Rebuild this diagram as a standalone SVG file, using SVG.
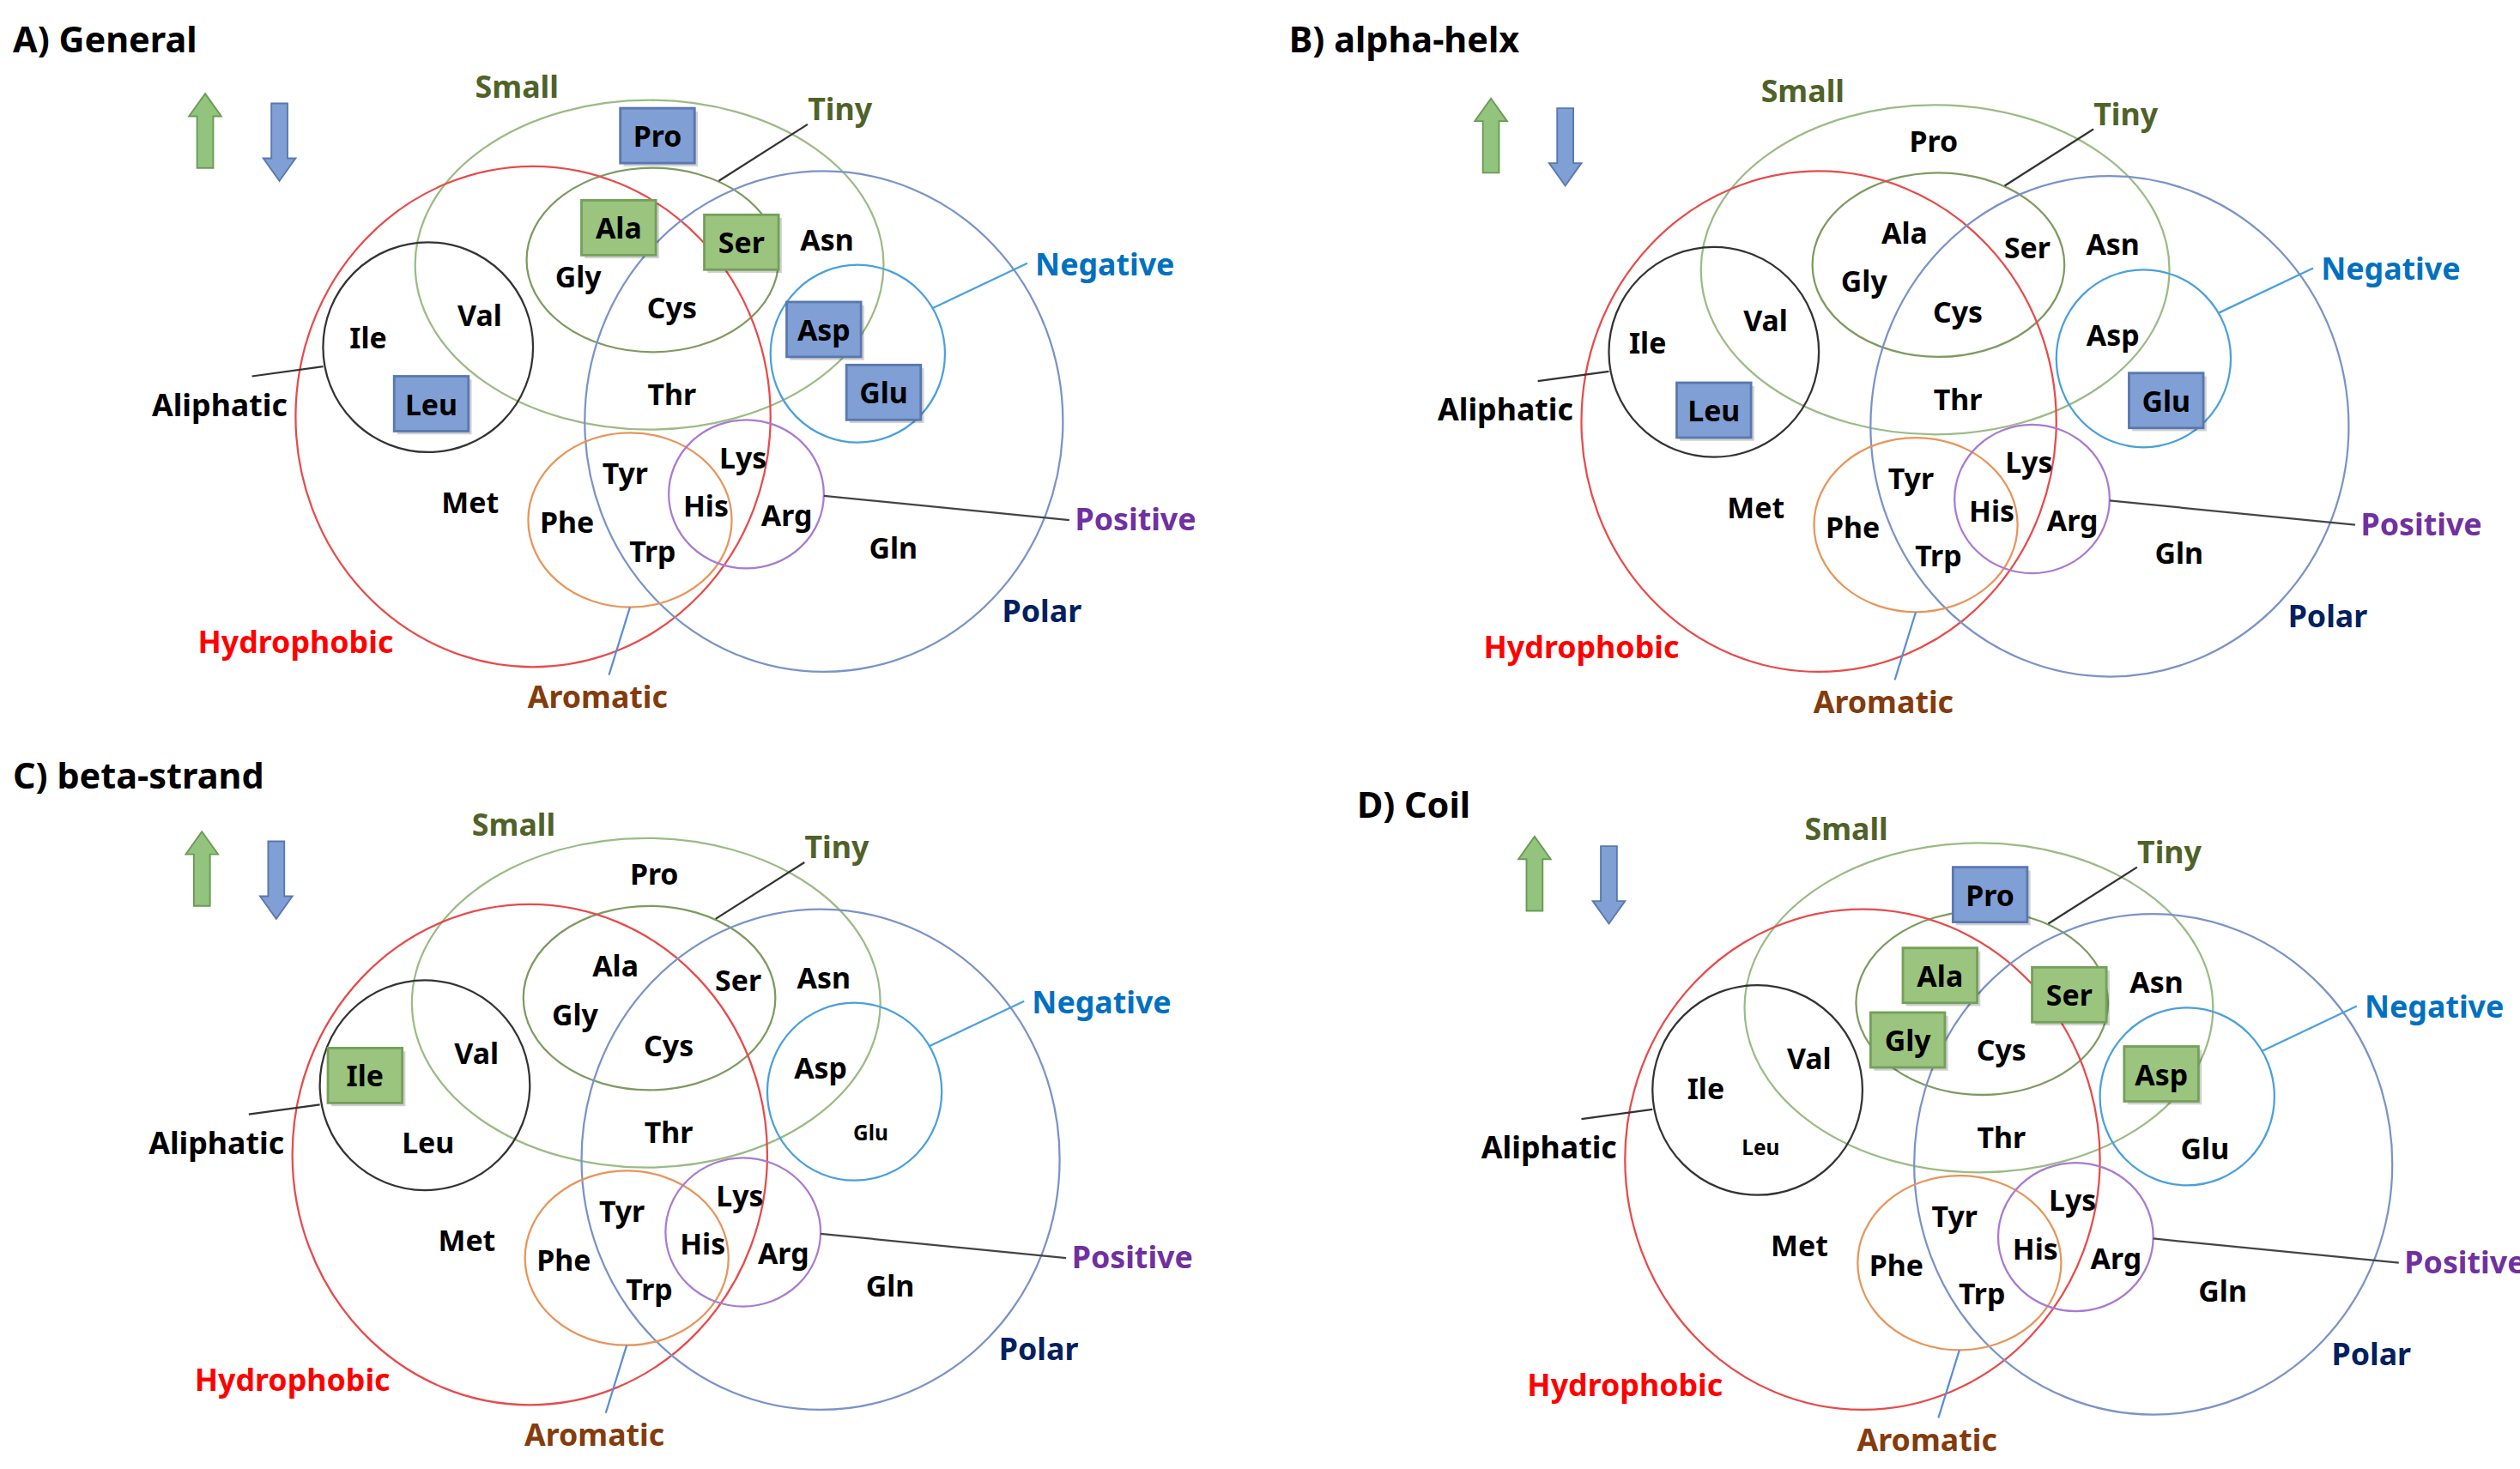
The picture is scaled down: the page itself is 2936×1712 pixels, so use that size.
<svg xmlns="http://www.w3.org/2000/svg" xmlns:xlink="http://www.w3.org/1999/xlink" width="2936" height="1712" viewBox="0 0 2936 1712">
<style>
text{font-family:"Noto Sans","Liberation Sans",sans-serif;font-weight:bold;text-anchor:middle;dominant-baseline:central}
.aa{font-size:18px;fill:#000}
.sm{font-size:13px}
.t{font-size:22px;text-anchor:start;fill:#000}
.c{fill:none;stroke-width:1.2}
.ln{stroke-width:1.2;fill:none}
.bb{fill:#7f9fd5;stroke:#5a78b0;stroke-width:1.5}
.gb{fill:#9bc47f;stroke:#74a05a;stroke-width:1.5}
.sh{fill:#000;opacity:.18}
</style>
<defs>
<g id="venn">
<ellipse class="c" cx="402" cy="164" rx="145" ry="102" stroke="#9bbb85"/>
<ellipse class="c" cx="404" cy="161" rx="78" ry="57" stroke="#7f9a60"/>
<ellipse class="c" cx="330" cy="258" rx="147" ry="155" stroke="#e84a4a"/>
<ellipse class="c" cx="265" cy="215" rx="65" ry="65" stroke="#333"/>
<ellipse class="c" cx="510" cy="261" rx="148" ry="155" stroke="#7a93c8"/>
<ellipse class="c" cx="531" cy="219" rx="54" ry="55" stroke="#4aa0dc"/>
<ellipse class="c" cx="390" cy="322" rx="63" ry="54" stroke="#e8955a"/>
<ellipse class="c" cx="462" cy="306" rx="48" ry="46" stroke="#a87bd0"/>
<line class="ln" x1="500" y1="77" x2="445" y2="112" stroke="#333"/>
<line class="ln" x1="636" y1="163" x2="577" y2="191" stroke="#4aa0dc"/>
<line class="ln" x1="156" y1="233" x2="200" y2="227" stroke="#333"/>
<line class="ln" x1="510" y1="307" x2="662" y2="322" stroke="#444"/>
<line class="ln" x1="390" y1="376" x2="377" y2="418" stroke="#5b8fd0"/>
<text x="320" y="53" style="font-size:19px;fill:#4f6228">Small</text>
<text x="520" y="67" style="font-size:19px;fill:#4f6228">Tiny</text>
<text x="684" y="163" style="font-size:19px;fill:#0070c0">Negative</text>
<text x="703" y="321" style="font-size:19px;fill:#7030a0">Positive</text>
<text x="645" y="378" style="font-size:19px;fill:#002060">Polar</text>
<text x="183" y="397" style="font-size:19px;fill:#ff0000">Hydrophobic</text>
<text x="370" y="431" style="font-size:19px;fill:#843c0c">Aromatic</text>
<text x="136" y="250" style="font-size:19px;fill:#000">Aliphatic</text>
<path d="M127 58 L137 72 L132 72 L132 104 L122 104 L122 72 L117 72 Z" fill="#93c47d" stroke="#6a9a55"/>
<path d="M173 112 L183 98 L178 98 L178 64 L168 64 L168 98 L163 98 Z" fill="#7f9fd5" stroke="#5a78b0"/>
</g>
<g id="common">
<text class="aa" x="416" y="244">Thr</text>
<text class="aa" x="291" y="311">Met</text>
<text class="aa" x="387" y="293">Tyr</text>
<text class="aa" x="460" y="283">Lys</text>
<text class="aa" x="437" y="313">His</text>
<text class="aa" x="487" y="319">Arg</text>
<text class="aa" x="351" y="323">Phe</text>
<text class="aa" x="404" y="341">Trp</text>
<text class="aa" x="553" y="339">Gln</text>
<text class="aa" x="512" y="148">Asn</text>
<text class="aa" x="416" y="190">Cys</text>
<text class="aa" x="297" y="195">Val</text>
</g>
<g id="bxb"><rect class="sh" x="-21" y="-15" width="46" height="34"/><rect class="bb" x="-23" y="-17" width="46" height="34"/></g>
<g id="bxg"><rect class="sh" x="-21" y="-15" width="46" height="34"/><rect class="gb" x="-23" y="-17" width="46" height="34"/></g>
</defs>
<rect width="2936" height="1712" fill="#fff"/>
<g transform="scale(1.882)">
<g id="panelA">
<text class="t" x="8" y="24">A) General</text>
<use xlink:href="#venn"/>
<use xlink:href="#common"/>
<use xlink:href="#bxb" x="407" y="84"/><text class="aa" x="407" y="84">Pro</text>
<use xlink:href="#bxg" x="383" y="141"/><text class="aa" x="383" y="141">Ala</text>
<use xlink:href="#bxg" x="459" y="150"/><text class="aa" x="459" y="150">Ser</text>
<text class="aa" x="358" y="171">Gly</text>
<text class="aa" x="228" y="209">Ile</text>
<use xlink:href="#bxb" x="267" y="250"/><text class="aa" x="267" y="250">Leu</text>
<use xlink:href="#bxb" x="510" y="204"/><text class="aa" x="510" y="204">Asp</text>
<use xlink:href="#bxb" x="547" y="243"/><text class="aa" x="547" y="243">Glu</text>
</g>
<g id="panelB">
<text class="t" x="798" y="24">B) alpha-helx</text>
<g transform="translate(796,3)">
<use xlink:href="#venn"/>
<use xlink:href="#common"/>
<text class="aa" x="401" y="84">Pro</text>
<text class="aa" x="383" y="141">Ala</text>
<text class="aa" x="459" y="150">Ser</text>
<text class="aa" x="358" y="171">Gly</text>
<text class="aa" x="224" y="209">Ile</text>
<use xlink:href="#bxb" x="265" y="251"/><text class="aa" x="265" y="251">Leu</text>
<text class="aa" x="512" y="204">Asp</text>
<use xlink:href="#bxb" x="545" y="245"/><text class="aa" x="545" y="245">Glu</text>
</g>
</g>
<g id="panelC">
<text class="t" x="8" y="480">C) beta-strand</text>
<g transform="translate(-2,457)">
<use xlink:href="#venn"/>
<use xlink:href="#common"/>
<text class="aa" x="407" y="84">Pro</text>
<text class="aa" x="383" y="141">Ala</text>
<text class="aa" x="459" y="150">Ser</text>
<text class="aa" x="358" y="171">Gly</text>
<use xlink:href="#bxg" x="228" y="209"/><text class="aa" x="228" y="209">Ile</text>
<text class="aa" x="267" y="250">Leu</text>
<text class="aa" x="510" y="204">Asp</text>
<text class="aa sm" x="541" y="244">Glu</text>
</g>
</g>
<g id="panelD">
<text class="t" x="840" y="498">D) Coil</text>
<g transform="translate(823,460)">
<use xlink:href="#venn"/>
<use xlink:href="#common"/>
<use xlink:href="#bxb" x="409" y="94"/><text class="aa" x="409" y="94">Pro</text>
<use xlink:href="#bxg" x="378" y="144"/><text class="aa" x="378" y="144">Ala</text>
<use xlink:href="#bxg" x="458" y="156"/><text class="aa" x="458" y="156">Ser</text>
<use xlink:href="#bxg" x="358" y="184"/><text class="aa" x="358" y="184">Gly</text>
<text class="aa" x="233" y="214">Ile</text>
<text class="aa sm" x="267" y="250">Leu</text>
<use xlink:href="#bxg" x="515" y="205"/><text class="aa" x="515" y="205">Asp</text>
<text class="aa" x="542" y="251">Glu</text>
</g>
</g>
</g>
</svg>
